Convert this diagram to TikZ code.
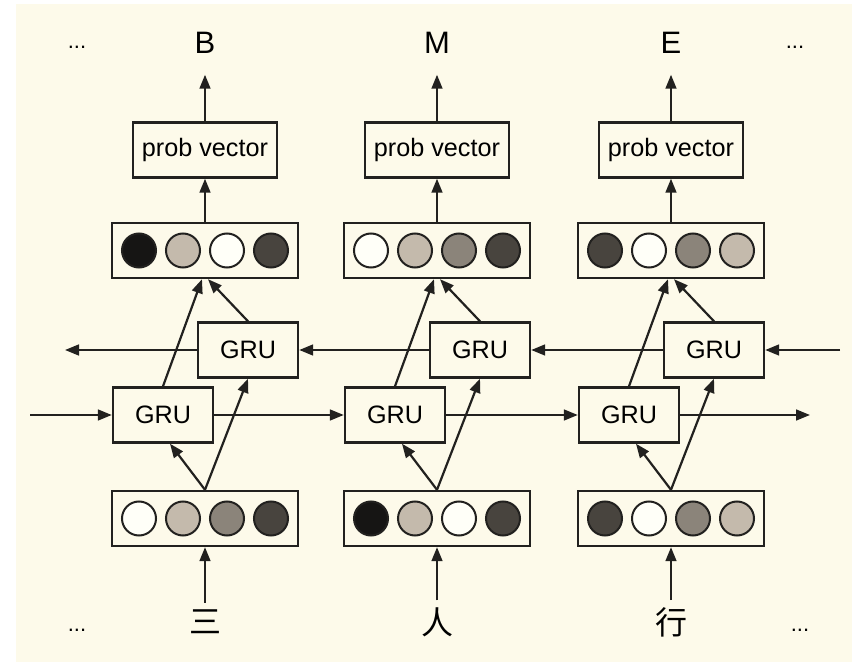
\documentclass[tikz,border=0pt]{standalone}
\usepackage{fontspec}
\setmainfont{Liberation Sans}
\newfontfamily\cjkfont{Noto Sans CJK SC}
\usetikzlibrary{arrows.meta}
\definecolor{paper}{RGB}{253,250,234}
\definecolor{ink}{RGB}{22,21,20}
\definecolor{taupe}{RGB}{196,186,172}
\definecolor{slate}{RGB}{139,132,122}
\definecolor{umber}{RGB}{72,68,62}
\definecolor{blank}{RGB}{255,255,248}
\definecolor{edge}{RGB}{34,33,31}
\tikzset{
  box/.style={draw=edge, line width=1.2pt, fill=paper, inner sep=0pt, minimum height=27.5pt},
  vecbox/.style={box, minimum width=93pt},
  grubox/.style={box, minimum width=50pt, font=\fontsize{12.6}{14}\selectfont},
  probbox/.style={box, minimum width=72pt, font=\fontsize{12.6}{14}\selectfont},
  unit/.style={circle, draw=edge, line width=1pt, minimum size=17pt, inner sep=0pt, fill=#1},
  arr/.style={draw=edge, line width=1.1pt, -{Triangle[length=7pt,width=5.4pt]}},
  tag/.style={font=\fontsize{15.5}{18}\selectfont},
  dots/.style={font=\fontsize{11}{13}\selectfont},
}

\begin{document}
\begin{tikzpicture}[x=0.5pt, y=-0.5pt]
\useasboundingbox (0,0) rectangle (852,663);
\fill[white] (0,0) rectangle (852,663);
\fill[paper] (16,4) rectangle (852,662);

\foreach \i/\x/\lab/\ch/\tc/\bc in {
  1/205/B/三/{ink,taupe,blank,umber}/{blank,taupe,slate,umber},
  2/437/M/人/{blank,taupe,slate,umber}/{ink,taupe,blank,umber},
  3/671/E/行/{umber,blank,slate,taupe}/{umber,blank,slate,taupe}} {
  \node[tag] (out\i) at (\x,43) {\lab};
  \node[probbox] (prob\i) at (\x,150) {prob vector};
  \node[vecbox] (top\i) at (\x,250.5) {};
  \node[grubox] (bwd\i) at (\x+43,350) {GRU};
  \node[grubox] (fwd\i) at (\x-42,415) {GRU};
  \node[vecbox] (bot\i) at (\x,518.5) {};
  \node[font=\cjkfont\fontsize{16}{18}\selectfont] (in\i) at (\x,622) {\ch};
  % the four units of each vector
  \foreach \c [count=\k] in \tc
    \node[unit=\c] (top\i-\k) at ({\x+(\k-2.5)*44},250.5) {};
  \foreach \c [count=\k] in \bc
    \node[unit=\c] (bot\i-\k) at ({\x+(\k-2.5)*44},518.5) {};
  % column connectors
  \draw[arr] (in\i) -- (bot\i);
  \draw[arr] (bot\i.north) -- ([xshift=3.5pt]fwd\i.south);
  \draw[arr] (bot\i.north) -- (bwd\i.south);
  \draw[arr] (fwd\i.north) -- ([xshift=-1.5pt]top\i.south);
  \draw[arr] (bwd\i.north) -- ([xshift=1.5pt]top\i.south);
  \draw[arr] (top\i) -- (prob\i);
  \draw[arr, shorten >=7pt] (prob\i) -- (out\i);
}

% recurrent chains
\coordinate (fin) at (30,415);
\coordinate (fout) at (810,415);
\coordinate (bin) at (840,350);
\coordinate (bout) at (65,350);
\draw[arr] (fin) -- (fwd1);
\draw[arr] (fwd1) -- (fwd2);
\draw[arr] (fwd2) -- (fwd3);
\draw[arr] (fwd3) -- (fout);
\draw[arr] (bin) -- (bwd3);
\draw[arr] (bwd3) -- (bwd2);
\draw[arr] (bwd2) -- (bwd1);
\draw[arr] (bwd1) -- (bout);

\node[dots] (dtl) at (77,47) {...};
\node[dots] (dtr) at (795,47) {...};
\node[dots] (dbl) at (77,630) {...};
\node[dots] (dbr) at (800,630) {...};
\end{tikzpicture}
\end{document}
